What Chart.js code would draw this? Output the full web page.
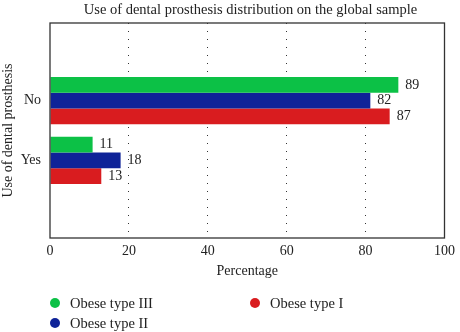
<!DOCTYPE html>
<html lang="en">
<head>
    <meta charset="UTF-8">
    <title>Use of dental prosthesis distribution on the global sample</title>
    <script src="https://cdn.jsdelivr.net/npm/chart.js"></script>
    <style>
        body { margin: 0; background: #fff; }
        #wrap { position: relative; width: 460px; height: 332px; font-family: "Liberation Serif", serif; color: #222; }
        /* title centred over the plot area, not the whole canvas */
        #title {
            position: absolute;
            left: 50px;
            width: 401px;
            top: 1px;
            line-height: 17px;
            font-size: 14.5px;
            text-align: center;
            white-space: nowrap;
        }
        /* legend: two rows, filled column by column */
        #legend {
            position: absolute;
            left: 50px;
            top: 293px;
            display: grid;
            grid-template-columns: 200px 200px;
            grid-template-rows: 20px 20px;
            grid-auto-flow: column;
            font-size: 14.5px;
        }
        .item { display: flex; align-items: center; white-space: nowrap; }
        .dot { width: 10px; height: 10px; border-radius: 50%; margin-right: 10px; }
    </style>
</head>
<body>
<div id="wrap">
    <canvas id="chart" width="460" height="332"></canvas>
    <div id="title">Use of dental prosthesis distribution on the global sample</div>
    <div id="legend"></div>
</div>
<script>
    // categories (top to bottom)
    const categories = ["No", "Yes"];

    const seriesNames = ["Obese type III", "Obese type II", "Obese type I"];
    const seriesColors = ["#0cc146", "#0f2398", "#d91c1f"];
    const typeIII = [88.3, 10.8];
    const typeII = [81.2, 17.9];
    const typeI = [86.1, 13.0];
    const typeIIIPrinted = ["89", "11"];
    const typeIIPrinted = ["82", "18"];
    const typeIPrinted = ["87", "13"];

    const xTicks = [0, 20, 40, 60, 80, 100];

    const FONT = '"Liberation Serif", serif';
    const INK = "#222";

    // frame around the plot area
    const frame = {
        id: "frame",
        afterDraw(chart) {
            const a = chart.chartArea;
            const ctx = chart.ctx;
            ctx.save();
            ctx.strokeStyle = "#333";
            ctx.lineWidth = 1.3;
            ctx.strokeRect(a.left, a.top, a.right - a.left, a.bottom - a.top);
            ctx.restore();
        }
    };

    // numbers at the end of each bar
    const valueLabels = {
        id: "valueLabels",
        afterDatasetsDraw(chart) {
            const ctx = chart.ctx;
            ctx.save();
            ctx.font = "14px " + FONT;
            ctx.fillStyle = INK;
            ctx.textBaseline = "middle";
            chart.data.datasets.forEach((ds, i) => {
                chart.getDatasetMeta(i).data.forEach((bar, j) => {
                    ctx.fillText(ds.printed[j], bar.x + 7, bar.y);
                });
            });
            ctx.restore();
        }
    };

    const values = [typeIII, typeII, typeI];
    const printed = [typeIIIPrinted, typeIIPrinted, typeIPrinted];

    new Chart(document.getElementById("chart"), {
        type: "bar",
        data: {
            labels: categories.map((c, i) => i + 1),
            datasets: seriesNames.map((name, i) => ({
                label: name,
                data: values[i],
                printed: printed[i],
                backgroundColor: seriesColors[i],
                borderWidth: 0,
                categoryPercentage: 0.79,
                barPercentage: 1
            }))
        },
        options: {
            indexAxis: "y",
            responsive: false,
            animation: false,
            layout: { padding: { left: 0, right: 9, top: 23, bottom: 49 } },
            plugins: {
                legend: { display: false },
                tooltip: { enabled: false },
                title: { display: false }
            },
            scales: {
                x: {
                    min: 0,
                    max: 100,
                    afterBuildTicks: s => { s.ticks = xTicks.map(v => ({ value: v })); },
                    afterFit: s => { s.height = 45; },
                    ticks: {
                        color: INK,
                        padding: 5,
                        maxRotation: 0,
                        font: { family: FONT, size: 14 }
                    },
                    grid: {
                        drawTicks: false,
                        color: c => (c.tick && (c.tick.value === 0 || c.tick.value === 100)) ? "transparent" : "#333",
                        lineWidth: 1
                    },
                    border: { display: false, dash: [1, 7] },
                    title: {
                        display: true,
                        text: "Percentage",
                        color: INK,
                        font: { family: FONT, size: 14 },
                        padding: { top: 0, bottom: 3 }
                    }
                },
                y: {
                    type: "linear",
                    reverse: true,
                    offset: false,
                    min: -0.3,
                    max: 3.3,
                    afterBuildTicks: s => { s.ticks = categories.map((c, i) => ({ value: i + 1 })); },
                    afterFit: s => { s.width = 50; },
                    ticks: {
                        color: INK,
                        padding: 9,
                        font: { family: FONT, size: 14 },
                        callback: v => categories[v - 1]
                    },
                    grid: { display: false, drawTicks: false },
                    border: { display: false },
                    title: {
                        display: true,
                        text: "Use of dental prosthesis",
                        color: INK,
                        font: { family: FONT, size: 14 },
                        padding: { top: 0, bottom: 0 }
                    }
                }
            }
        },
        plugins: [frame, valueLabels]
    });

    // legend built from the series arrays
    const legend = document.getElementById("legend");
    seriesNames.forEach((name, i) => {
        const item = document.createElement("div");
        item.className = "item";
        item.innerHTML = '<span class="dot" style="background:' + seriesColors[i] + '"></span>' + name;
        legend.appendChild(item);
    });
</script>
</body>
</html>
